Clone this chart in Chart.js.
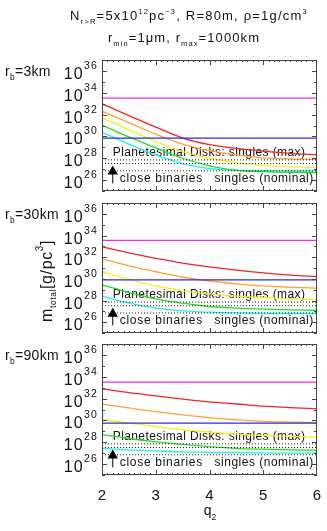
<!DOCTYPE html>
<html>
<head>
<meta charset="utf-8">
<script src="https://cdn.jsdelivr.net/npm/chart.js@4.4.1/dist/chart.umd.min.js"></script>
<style>
html, body { margin: 0; padding: 0; background: #fff; }
#wrap { position: relative; width: 327px; height: 531px; }
canvas { position: absolute; left: 0; top: 0; }
</style>
</head>
<body>
<div id="wrap">
  <canvas id="p1" width="327" height="531"></canvas>
  <canvas id="p2" width="327" height="531"></canvas>
  <canvas id="p3" width="327" height="531"></canvas>
</div>
<script>
// q2 grid the curves were read at
const q2 = [2, 2.5, 3, 3.5, 4, 4.5, 5, 5.5, 6];

// r_b = 3 km
const red3 = [1.0e33, 7.9e31, 7.1e30, 7.1e29, 1.8e29, 7.9e28, 4.5e28, 2.8e28, 2.0e28];
const orange3 = [2.0e32, 1.8e31, 1.6e30, 2.0e29, 5.0e28, 2.0e28, 1.1e28, 8.9e27, 7.9e27];
const yellow3 = [5.0e31, 4.0e30, 3.5e29, 4.0e28, 1.0e28, 4.0e27, 2.2e27, 1.6e27, 1.4e27];
const green3 = [1.1e31, 8.9e29, 8.9e28, 1.0e28, 2.0e27, 7.9e26, 6.0e26, 5.2e26, 5.0e26];
const cyan3 = [2.5e30, 2.0e29, 2.0e28, 3.2e27, 1.1e27, 8.3e26, 7.4e26, 7.1e26, 7.1e26];
const blue3 = 7.1e29;
const magenta3 = 3.2e33;

// r_b = 30 km
const red30 = [8.9e32, 2.5e32, 7.9e31, 2.8e31, 1.26e31, 6.3e30, 3.5e30, 2.2e30, 1.6e30];
const orange30 = [7.1e31, 1.6e31, 4.5e30, 1.4e30, 6.3e29, 3.5e29, 2.2e29, 1.7e29, 1.4e29];
const yellow30 = [4.5e30, 8.9e29, 2.2e29, 7.9e28, 4.0e28, 2.5e28, 1.8e28, 1.4e28, 1.2e28];
const green30 = [2.8e29, 5.6e28, 1.4e28, 5.6e27, 2.8e27, 2.0e27, 1.6e27, 1.35e27, 1.26e27];
const cyan30 = [2.5e28, 5.6e27, 2.0e27, 1.1e27, 8.3e26, 7.1e26, 6.6e26, 6.3e26, 6.3e26];
const blue30 = 7.9e29;
const magenta30 = 3.5e33;

// r_b = 90 km
const red90 = [7.9e32, 3.5e32, 1.8e32, 8.9e31, 5.0e31, 3.2e31, 2.0e31, 1.5e31, 1.15e31];
const orange90 = [3.2e31, 1.4e31, 6.3e30, 3.2e30, 1.8e30, 1.1e30, 8.3e29, 7.1e29, 6.3e29];
const yellow90 = [1.2e30, 5.6e29, 2.8e29, 1.4e29, 8.5e28, 5.6e28, 4.2e28, 3.4e28, 3.0e28];
const green90 = [5.0e28, 2.2e28, 1.1e28, 6.3e27, 4.0e27, 2.8e27, 2.3e27, 2.0e27, 1.9e27];
const cyan90 = [2.8e27, 2.0e27, 1.6e27, 1.3e27, 1.2e27, 1.1e27, 1.05e27, 1.0e27, 1.0e27];
const blue90 = 5.6e29;
const magenta90 = 3.2e33;

// dotted reference levels, same in every panel
const dotLevels = [7.1e27, 3.3e27, 7.1e26];
// arrow for close binaries
const arrowQ = 2.2;
const arrowFrom = 5.0e25;
const arrowTo = 6.0e26;

const yTickVals = [1e26, 1e28, 1e30, 1e32, 1e34, 1e36];
const yTickExp = ['26', '28', '30', '32', '34', '36'];
const yMinorVals = [1e25, 1e27, 1e29, 1e31, 1e33, 1e35, 1e37];
const xTickVals = [2, 3, 4, 5, 6];
const xTickLabels = ['2', '3', '4', '5', '6'];
const panelNames = ['3km', '30km', '90km'];

const panelTop = [60, 203, 344];
const panelBottom = [191, 333, 475];
const FONT = '"Liberation Sans", Arial, sans-serif';

const colors = {
  red: '#f22424', orange: '#ffa12e', yellow: '#f2f21a',
  green: '#22dd22', cyan: '#22eeee', blue: '#2a2ae6', magenta: '#f22af2'
};

function pts(vals) {
  return q2.map((q, i) => ({ x: q, y: vals[i] }));
}
function flat(v) {
  return [{ x: 2, y: v }, { x: 6, y: v }];
}

function rich(ctx, x, y, parts, align, spacing) {
  ctx.letterSpacing = (spacing || 0) + 'px';
  let w = 0;
  parts.forEach(p => {
    ctx.font = p.s + 'px ' + FONT;
    p.w = ctx.measureText(p.t).width;
    w += p.w;
  });
  let cx = align === 'right' ? x - w : align === 'center' ? x - w / 2 : x;
  ctx.textAlign = 'left';
  ctx.textBaseline = 'alphabetic';
  parts.forEach(p => {
    ctx.font = p.s + 'px ' + FONT;
    ctx.fillText(p.t, cx, y + (p.dy || 0));
    cx += p.w;
  });
  ctx.letterSpacing = '0px';
}

function panelPlugin(idx) {
  return {
    id: 'panel' + idx,
    beforeDatasetsDraw(chart) {
      const { ctx, scales: { x, y } } = chart;
      ctx.save();
      ctx.fillStyle = '#111';
      rich(ctx, x.getPixelForValue(2.2), y.getPixelForValue(4.0e28) + 4,
        [{ t: 'Planetesimal Disks: singles (max)', s: 12 }], 'left', 0.4);
      rich(ctx, x.getPixelForValue(2.33), y.getPixelForValue(1.6e26) + 4,
        [{ t: 'close binaries', s: 12 }], 'left', 0.7);
      rich(ctx, x.getPixelForValue(5.94), y.getPixelForValue(1.6e26) + 4,
        [{ t: 'singles (nominal)', s: 12 }], 'right', 0.5);
      ctx.restore();
    },
    afterDraw(chart) {
      const { ctx, chartArea: a, scales: { x, y } } = chart;
      ctx.save();
      ctx.strokeStyle = '#444';
      ctx.lineWidth = 1;
      ctx.strokeRect(a.left + 0.5, a.top + 0.5, a.right - a.left - 1, a.bottom - a.top - 1);
      ctx.beginPath();
      yTickVals.forEach(v => {
        const py = Math.round(y.getPixelForValue(v)) + 0.5;
        ctx.moveTo(a.left, py); ctx.lineTo(a.left + 5, py);
        ctx.moveTo(a.right, py); ctx.lineTo(a.right - 5, py);
      });
      yMinorVals.forEach(v => {
        const py = Math.round(y.getPixelForValue(v)) + 0.5;
        ctx.moveTo(a.left, py); ctx.lineTo(a.left + 3, py);
        ctx.moveTo(a.right, py); ctx.lineTo(a.right - 3, py);
      });
      for (let k = 1; k < 40; k++) {
        const px = Math.round(x.getPixelForValue(2 + k / 10)) + 0.5;
        const len = k % 10 === 0 ? 5 : 2;
        ctx.moveTo(px, a.top); ctx.lineTo(px, a.top + len);
        ctx.moveTo(px, a.bottom); ctx.lineTo(px, a.bottom - len);
      }
      ctx.stroke();

      ctx.fillStyle = '#111';
      yTickVals.forEach((v, i) => {
        const py = y.getPixelForValue(v);
        rich(ctx, 98, py + 8, [{ t: '10', s: 16 }, { t: yTickExp[i], s: 10.5, dy: -10 }], 'right', 1.2);
      });
      const py36 = y.getPixelForValue(1e36);
      rich(ctx, 5, py36 + 5, [{ t: 'r', s: 14 }, { t: 'b', s: 8.5, dy: 4 }, { t: '=' + panelNames[idx], s: 14 }], 'left', 0.3);

      if (idx === 0) {
        rich(ctx, 189, 20, [
          { t: 'N', s: 13 }, { t: 'r>R', s: 7.5, dy: 4 }, { t: '=5x10', s: 13 },
          { t: '12', s: 7.5, dy: -6 }, { t: 'pc', s: 13 }, { t: '\u22123', s: 7.5, dy: -6 },
          { t: ', R=80m, \u03c1=1g/cm', s: 13 }, { t: '3', s: 7.5, dy: -6 }
        ], 'center', 1.2);
        rich(ctx, 184, 41.5, [
          { t: 'r', s: 13 }, { t: 'min', s: 7.5, dy: 4 }, { t: '=1\u03bcm, r', s: 13 },
          { t: 'max', s: 7.5, dy: 4 }, { t: '=1000km', s: 13 }
        ], 'center', 1.1);
      }
      if (idx === 1) {
        ctx.save();
        ctx.translate(52, 281);
        ctx.rotate(-Math.PI / 2);
        rich(ctx, 0, 0, [
          { t: 'm', s: 16 }, { t: 'total', s: 8.5, dy: 4 }, { t: '[g/pc', s: 16 },
          { t: '3', s: 10, dy: -9 }, { t: ']', s: 16 }
        ], 'center', 0.6);
        ctx.restore();
      }
      if (idx === 2) {
        xTickVals.forEach((v, i) => {
          rich(ctx, x.getPixelForValue(v), 500, [{ t: xTickLabels[i], s: 15 }], 'center');
        });
        rich(ctx, 210, 515, [{ t: 'q', s: 14 }, { t: '2', s: 8.5, dy: 5 }], 'center');
      }
      ctx.restore();
    }
  };
}

function makePanel(id, idx, red, orange, yellow, green, cyan, blue, magenta) {
  const curve = (vals, c) => ({
    data: pts(vals), borderColor: c, borderWidth: 1.3,
    cubicInterpolationMode: 'monotone', pointRadius: 0
  });
  const level = (v, c, dash) => ({
    data: flat(v), borderColor: c, borderWidth: dash ? 1 : 1.3,
    borderDash: dash ? [1, 2] : [], pointRadius: 0
  });
  const datasets = [
    ...dotLevels.map(v => level(v, '#222', true)),
    level(magenta, colors.magenta),
    level(blue, colors.blue),
    curve(red, colors.red),
    curve(orange, colors.orange),
    curve(yellow, colors.yellow),
    curve(green, colors.green),
    curve(cyan, colors.cyan),
    {
      data: [{ x: arrowQ, y: arrowFrom }, { x: arrowQ, y: arrowTo }],
      borderColor: '#000', borderWidth: 1,
      pointRadius: [0, 6], pointStyle: 'triangle',
      pointBackgroundColor: '#000', pointBorderColor: '#000', pointBorderWidth: 0
    }
  ];
  return new Chart(document.getElementById(id), {
    type: 'line',
    data: { datasets },
    options: {
      responsive: false,
      animation: false,
      layout: { padding: { left: 102, right: 10, top: panelTop[idx], bottom: 531 - panelBottom[idx] } },
      plugins: { legend: { display: false }, tooltip: { enabled: false } },
      scales: {
        x: { type: 'linear', min: 2, max: 6, display: false },
        y: { type: 'logarithmic', min: 1e25, max: 1e37, display: false }
      }
    },
    plugins: [panelPlugin(idx)]
  });
}

makePanel('p1', 0, red3, orange3, yellow3, green3, cyan3, blue3, magenta3);
makePanel('p2', 1, red30, orange30, yellow30, green30, cyan30, blue30, magenta30);
makePanel('p3', 2, red90, orange90, yellow90, green90, cyan90, blue90, magenta90);
</script>
</body>
</html>
